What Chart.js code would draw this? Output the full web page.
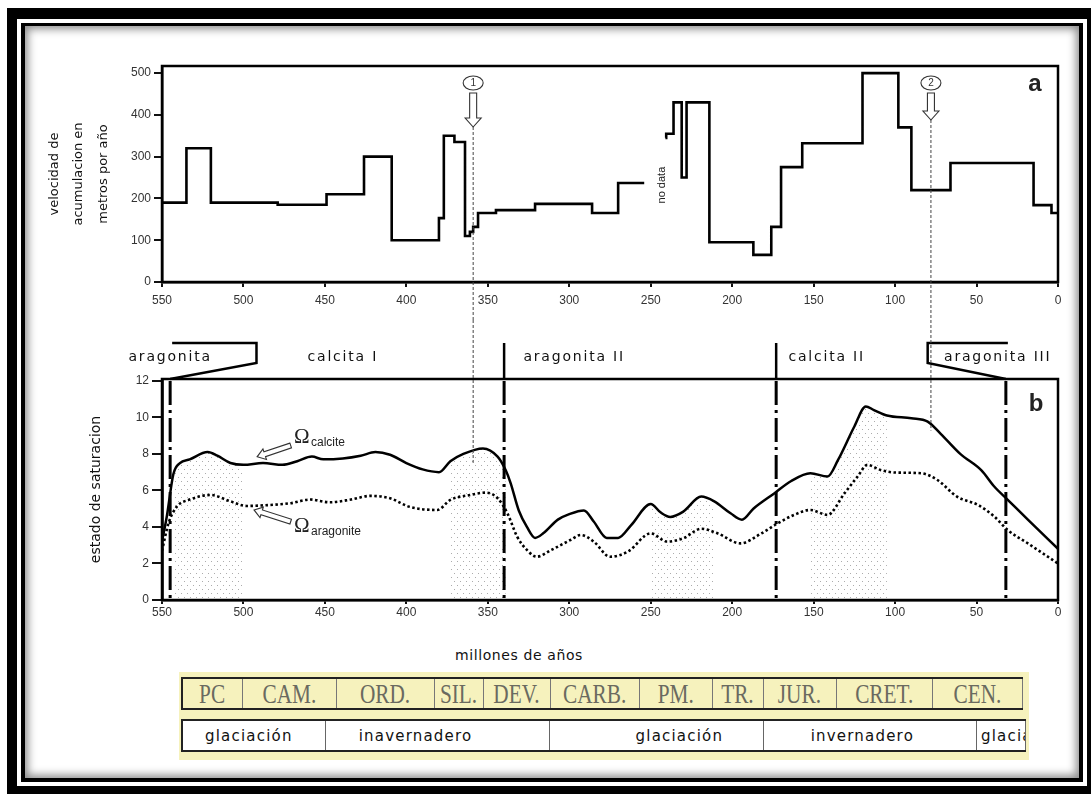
<!DOCTYPE html>
<html>
<head>
<meta charset="utf-8">
<script src="https://cdn.jsdelivr.net/npm/chart.js@4.4.1/dist/chart.umd.min.js"></script>
<style>
body{margin:0;width:1091px;height:794px;position:relative;overflow:hidden;background:#fff;font-family:"DejaVu Sans",sans-serif}
#outer{position:absolute;left:7px;top:8px;width:1084px;height:786px;box-sizing:border-box;border-style:solid;border-color:#000;border-width:11px 4px 8px 10px}
#inner{position:absolute;left:21px;top:23px;width:1062px;height:759px;box-sizing:border-box;border:4px solid #000;border-top-width:3px;box-shadow:inset 0 0 9px 3px rgba(0,0,0,.45)}
canvas{position:absolute;left:0}
#cA{top:0}
#cB{top:320px}
#eje{position:absolute;left:455px;top:647px;font-size:14px;letter-spacing:.6px;color:#111}
#tabla{position:absolute;left:179px;top:672px;width:850px;height:88px;background:#f6f2bd}
.fila{position:absolute;left:2px;display:flex;border-top:2px solid #222;border-bottom:2px solid #222;border-left:2px solid #222;box-sizing:border-box}
.per{box-sizing:border-box;border-right:1.5px solid #777;display:flex;align-items:center;justify-content:center;overflow:hidden;white-space:nowrap;font-family:"Liberation Serif",serif;font-size:28px;color:#6a6a60}
.per span{display:inline-block;transform:scaleX(.76)}
.cli{box-sizing:border-box;border-right:1.5px solid #666;background:#fff;display:flex;align-items:center;overflow:hidden;white-space:nowrap;font-size:15px;letter-spacing:1.2px;color:#111}
</style>
</head>
<body>
<div id="outer"></div>
<div id="inner"></div>
<canvas id="cA" width="1091" height="320"></canvas>
<canvas id="cB" width="1091" height="320"></canvas>
<div id="eje">millones de años</div>
<div id="tabla"></div>
<script>
// eje de edades (millones de años)
const ticksEdad = [550, 500, 450, 400, 350, 300, 250, 200, 150, 100, 50, 0];
const ticksVel = [0, 100, 200, 300, 400, 500];
const ticksOmega = [0, 2, 4, 6, 8, 10, 12];

// panel a: velocidad de acumulacion (escalones, valor que empieza en cada edad)
const edadA = [550, 535, 520, 479, 449, 426, 409, 380, 377, 370.5, 364, 361, 359, 356, 345, 321, 286, 270, 254, 250,
  241, 240.5, 236, 231, 228, 214, 187, 176, 170, 157, 120, 98, 90, 66, 15, 4, 0];
const velocidad = [190, 320, 190, 185, 210, 300, 100, 153, 350, 335, 110, 120, 132, 165, 172, 187, 165, 237, 237, null,
  345, 355, 430, 250, 430, 95, 65, 132, 275, 332, 500, 370, 220, 285, 184, 165, 165];

// panel b: estado de saturacion
const edadCalcita = [550, 547, 543, 539, 533, 522, 516, 508, 500, 488, 476, 467, 458, 451, 439, 428, 419, 410, 400, 390,
  380, 373, 365, 353, 344, 339, 336, 331, 326, 321, 316, 307, 300, 291, 285, 277, 270, 262, 250, 244, 238, 230, 219, 211,
  201, 194, 187, 174, 164, 152, 141.5, 135, 125, 118, 113, 105, 90, 80, 72, 60, 47, 39, 31, 18.5, 0];
const omegaCalcita = [3.2, 4.6, 6.9, 7.5, 7.7, 8.1, 7.9, 7.5, 7.4, 7.5, 7.4, 7.6, 7.85, 7.7, 7.75, 7.9, 8.1, 7.95, 7.5, 7.15,
  7.0, 7.6, 8.0, 8.3, 7.85, 7.1, 6.4, 4.9, 4.0, 3.4, 3.65, 4.4, 4.7, 4.9, 4.3, 3.4, 3.4, 4.1, 5.26, 4.8, 4.55, 4.84, 5.66, 5.4,
  4.75, 4.4, 5.0, 5.85, 6.5, 6.94, 6.76, 7.67, 9.5, 10.6, 10.4, 10.1, 9.95, 9.77, 9.1, 8.0, 7.1, 6.2, 5.5, 4.4, 2.8];
const edadAragonito = [550, 546, 541, 533, 520, 508, 498, 484, 471, 459, 447, 434, 422, 410, 398, 381, 373, 361, 351, 344,
  338, 332, 326, 320, 311, 299, 293, 285, 275, 264, 250, 240, 230, 219, 209, 195, 182, 172, 162, 152, 141.5, 131, 123, 117,
  109, 100, 84, 74, 62, 49, 39, 31, 18.5, 0];
const omegaAragonito = [2.7, 4.2, 5.1, 5.5, 5.75, 5.4, 5.15, 5.2, 5.3, 5.5, 5.35, 5.5, 5.7, 5.57, 5.1, 4.93, 5.48, 5.75, 5.88, 5.57,
  4.75, 3.47, 2.74, 2.37, 2.74, 3.3, 3.56, 3.2, 2.37, 2.65, 3.65, 3.2, 3.38, 3.9, 3.65, 3.1, 3.65, 4.2, 4.66, 4.93, 4.66, 5.85, 6.76, 7.4,
  7.12, 6.98, 6.94, 6.57, 5.66, 5.2, 4.56, 3.84, 3.1, 2.0];
const zonasPunteadas = [[545, 500], [378, 337], [251, 208], [155, 95]];

// mares de aragonita / calcita
const mares = ['aragonita', 'calcita I', 'aragonita II', 'calcita II', 'aragonita III'];
const limitesMares = [545, 340, 173, 32];
const eventos = [359, 78];

// escala de tiempo
const periodos = ['PC', 'CAM.', 'ORD.', 'SIL.', 'DEV.', 'CARB.', 'PM.', 'TR.', 'JUR.', 'CRET.', 'CEN.'];
const clima = ['glaciación', 'inavernadero', 'glaciación', 'invernadero', 'glaciación'];

Chart.defaults.font.family = '"Liberation Sans", Arial, sans-serif';
Chart.defaults.color = '#333';

function flechaHueca(ctx, x1, y1, x2, y2, sw, hw, hl) {
  const len = Math.hypot(x2 - x1, y2 - y1);
  const ux = (x2 - x1) / len, uy = (y2 - y1) / len, nx = -uy, ny = ux;
  const bx = x2 - ux * hl, by = y2 - uy * hl;
  ctx.beginPath();
  ctx.moveTo(x1 + nx * sw, y1 + ny * sw);
  ctx.lineTo(bx + nx * sw, by + ny * sw);
  ctx.lineTo(bx + nx * hw, by + ny * hw);
  ctx.lineTo(x2, y2);
  ctx.lineTo(bx - nx * hw, by - ny * hw);
  ctx.lineTo(bx - nx * sw, by - ny * sw);
  ctx.lineTo(x1 - nx * sw, y1 - ny * sw);
  ctx.closePath();
  ctx.fillStyle = '#fff';
  ctx.fill();
  ctx.setLineDash([]);
  ctx.lineWidth = 1.1;
  ctx.strokeStyle = '#333';
  ctx.stroke();
}

function punteado() {
  const c = document.createElement('canvas');
  c.width = 6; c.height = 8;
  const g = c.getContext('2d');
  g.fillStyle = 'rgba(90,90,90,0.5)';
  g.fillRect(1, 1, 1, 1);
  g.fillRect(4, 5, 1, 1);
  return g.createPattern(c, 'repeat');
}

function ejeX(len, pad, alto) {
  return {
    type: 'linear', reverse: true, min: 0, max: 550,
    afterBuildTicks: (s) => { s.ticks = ticksEdad.map(v => ({value: v})); },
    afterFit: (s) => { s.height = alto; },
    grid: {drawOnChartArea: false, tickLength: len, color: '#111', lineWidth: 2},
    border: {color: '#000', width: 2.5},
    ticks: {font: {size: 12}, color: '#333', padding: pad, maxRotation: 0}
  };
}

// panel a
new Chart(document.getElementById('cA'), {
  type: 'line',
  data: {
    datasets: [{
      data: edadA.map((e, i) => ({x: e, y: velocidad[i]})),
      stepped: 'before', spanGaps: false,
      borderColor: '#000', borderWidth: 2.6, pointRadius: 0
    }]
  },
  options: {
    responsive: false, animation: false, events: [],
    layout: {padding: {left: 0, right: 33, top: 66, bottom: 0}},
    plugins: {legend: {display: false}, tooltip: {enabled: false}},
    scales: {
      x: ejeX(5, 6, 38),
      y: {
        min: 0, max: 517,
        afterBuildTicks: (s) => { s.ticks = ticksVel.map(v => ({value: v})); },
        afterFit: (s) => { s.width = 162; },
        grid: {drawOnChartArea: false, tickLength: 8, color: '#111', lineWidth: 2},
        border: {color: '#000', width: 2.5},
        ticks: {font: {size: 12}, color: '#333', padding: 3},
        title: {display: true, text: ['velocidad de', 'acumulacion en', 'metros por año'],
          font: {family: '"DejaVu Sans"', size: 13, lineHeight: 1.85}, color: '#111', padding: {top: 43, bottom: 0}}
      }
    }
  },
  plugins: [{
    id: 'marcasA',
    afterDatasetsDraw(chart) {
      const {ctx, chartArea: a, scales: {x, y}} = chart;
      ctx.save();
      ctx.lineWidth = 2.5;
      ctx.strokeStyle = '#000';
      ctx.strokeRect(a.left, a.top, a.right - a.left, a.bottom - a.top);
      eventos.forEach((ed, i) => {
        const px = x.getPixelForValue(ed);
        const punta = i === 0 ? a.top + 61 : a.top + 54;
        ctx.setLineDash([]);
        ctx.beginPath();
        ctx.ellipse(px, a.top + 17, 10, 7, 0, 0, 2 * Math.PI);
        ctx.lineWidth = 1.1;
        ctx.strokeStyle = '#333';
        ctx.stroke();
        ctx.fillStyle = '#333';
        ctx.font = '10px "Liberation Sans"';
        ctx.textAlign = 'center';
        ctx.textBaseline = 'middle';
        ctx.fillText(String(i + 1), px, a.top + 17.5);
        flechaHueca(ctx, px, a.top + 27, px, punta, 3.5, 8, 9);
        ctx.setLineDash([3, 2]);
        ctx.lineWidth = 1;
        ctx.strokeStyle = '#444';
        ctx.beginPath();
        ctx.moveTo(px, punta);
        ctx.lineTo(px, chart.height);
        ctx.stroke();
      });
      ctx.setLineDash([]);
      ctx.fillStyle = '#222';
      ctx.font = 'bold 24px "Liberation Sans"';
      ctx.textAlign = 'center';
      ctx.textBaseline = 'middle';
      ctx.fillText('a', a.right - 23, a.top + 18);
      ctx.translate(x.getPixelForValue(243), y.getPixelForValue(232));
      ctx.rotate(-Math.PI / 2);
      ctx.font = '11px "Liberation Sans"';
      ctx.fillText('no data', 0, 0);
      ctx.restore();
    }
  }]
});

// panel b
const patron = punteado();
const zonas = zonasPunteadas.map(([hi, lo]) => ({
  data: edadCalcita.map((e, i) => ({x: e, y: omegaCalcita[i]})).filter(p => p.x <= hi && p.x >= lo),
  fill: 'origin', backgroundColor: patron, borderWidth: 0, pointRadius: 0,
  cubicInterpolationMode: 'monotone', order: 3
}));

new Chart(document.getElementById('cB'), {
  type: 'line',
  data: {
    datasets: [{
      label: 'Ωcalcite',
      data: edadCalcita.map((e, i) => ({x: e, y: omegaCalcita[i]})),
      borderColor: '#000', borderWidth: 2.5, pointRadius: 0, cubicInterpolationMode: 'monotone'
    }, {
      label: 'Ωaragonite',
      data: edadAragonito.map((e, i) => ({x: e, y: omegaAragonito[i]})),
      borderColor: '#000', borderWidth: 2.6, borderDash: [2.5, 2.5], pointRadius: 0, cubicInterpolationMode: 'monotone'
    }, ...zonas]
  },
  options: {
    responsive: false, animation: false, events: [],
    layout: {padding: {left: 0, right: 33, top: 59, bottom: 0}},
    plugins: {legend: {display: false}, tooltip: {enabled: false}},
    scales: {
      x: ejeX(4, 1, 40),
      y: {
        min: 0, max: 12.1,
        afterBuildTicks: (s) => { s.ticks = ticksOmega.map(v => ({value: v})); },
        afterFit: (s) => { s.width = 162; },
        grid: {drawOnChartArea: false, tickLength: 10, color: '#111', lineWidth: 2},
        border: {color: '#000', width: 2.8},
        ticks: {font: {size: 12}, color: '#333', padding: 3},
        title: {display: true, text: 'estado de saturacion',
          font: {family: '"DejaVu Sans"', size: 14, lineHeight: 1.2}, color: '#111', padding: {top: 88, bottom: 0}}
      }
    }
  },
  plugins: [{
    id: 'marcasB',
    afterDatasetsDraw(chart) {
      const {ctx, chartArea: a, scales: {x, y}} = chart;
      ctx.save();
      ctx.lineWidth = 2.5;
      ctx.strokeStyle = '#000';
      ctx.strokeRect(a.left, a.top, a.right - a.left, a.bottom - a.top);
      // limites entre mares
      limitesMares.forEach((ed, i) => {
        const px = x.getPixelForValue(ed);
        ctx.setLineDash([24, 5, 3, 5]);
        ctx.lineWidth = 3;
        ctx.beginPath();
        ctx.moveTo(px, a.top + 2);
        ctx.lineTo(px, a.bottom);
        ctx.stroke();
        ctx.setLineDash([]);
        ctx.lineWidth = 2.5;
        ctx.beginPath();
        if (i === 0 || i === 3) {
          const q = x.getPixelForValue(i === 0 ? 492 : 80);
          ctx.moveTo(px, a.top);
          ctx.lineTo(q, a.top - 16);
          ctx.lineTo(q, a.top - 36);
          ctx.lineTo(px + 2, a.top - 36);
        } else {
          ctx.moveTo(px, a.top - 36);
          ctx.lineTo(px, a.top);
        }
        ctx.stroke();
      });
      // nombres de los mares
      const centros = [545, 439, 297, 142, 37];
      ctx.fillStyle = '#111';
      ctx.font = '14px "DejaVu Sans"';
      ctx.letterSpacing = '1.8px';
      ctx.textAlign = 'center';
      ctx.textBaseline = 'middle';
      mares.forEach((t, i) => ctx.fillText(t, x.getPixelForValue(centros[i]), a.top - 22));
      ctx.letterSpacing = '0px';
      // lineas de los eventos 1 y 2
      eventos.forEach((ed) => {
        let k = 0;
        edadCalcita.forEach((e, i) => { if (Math.abs(e - ed) < Math.abs(edadCalcita[k] - ed)) k = i; });
        const px = x.getPixelForValue(ed);
        ctx.setLineDash([3, 2]);
        ctx.lineWidth = 1;
        ctx.strokeStyle = '#444';
        ctx.beginPath();
        ctx.moveTo(px, 0);
        ctx.lineTo(px, y.getPixelForValue(omegaCalcita[k]) + 9);
        ctx.stroke();
      });
      ctx.setLineDash([]);
      // rotulos omega
      const rot = [
        {sub: 'calcite', ex: 469, ey: 8.9, cola: [471, 8.46], punta: [491.6, 7.84]},
        {sub: 'aragonite', ex: 469, ey: 4.0, cola: [471, 4.29], punta: [493.5, 4.93]}
      ];
      rot.forEach((r) => {
        const px = x.getPixelForValue(r.ex), py = y.getPixelForValue(r.ey);
        ctx.fillStyle = '#222';
        ctx.textAlign = 'left';
        ctx.font = '21px "Liberation Serif"';
        ctx.fillText('Ω', px, py);
        ctx.font = '12px "Liberation Sans"';
        ctx.fillText(r.sub, px + 17, py + 5);
        flechaHueca(ctx, x.getPixelForValue(r.cola[0]), y.getPixelForValue(r.cola[1]),
          x.getPixelForValue(r.punta[0]), y.getPixelForValue(r.punta[1]), 2.5, 5.5, 8);
      });
      ctx.fillStyle = '#222';
      ctx.font = 'bold 24px "Liberation Sans"';
      ctx.textAlign = 'center';
      ctx.fillText('b', a.right - 22, a.top + 25);
      ctx.restore();
    }
  }]
});

// escala de tiempo (tabla)
const anchoPer = [59.5, 94.5, 98, 48.6, 67.1, 89.3, 73, 50.7, 72.9, 96.4, 90];
const anchoCli = [142.7, 223.9, 214.1, 213.3, 49];
const sangria = [22, 33, 86, 47, 4];
const tabla = document.getElementById('tabla');
const f1 = document.createElement('div');
f1.className = 'fila';
f1.style.top = '5px'; f1.style.height = '33px';
periodos.forEach((p, i) => {
  const c = document.createElement('div');
  c.className = 'per';
  c.style.width = anchoPer[i] + 'px';
  c.innerHTML = '<span>' + p + '</span>';
  f1.appendChild(c);
});
tabla.appendChild(f1);
const f2 = document.createElement('div');
f2.className = 'fila';
f2.style.top = '47px'; f2.style.height = '33px';
clima.forEach((t, i) => {
  const c = document.createElement('div');
  c.className = 'cli';
  c.style.width = anchoCli[i] + 'px';
  c.style.paddingLeft = sangria[i] + 'px';
  c.textContent = t;
  f2.appendChild(c);
});
tabla.appendChild(f2);
</script>
</body>
</html>
